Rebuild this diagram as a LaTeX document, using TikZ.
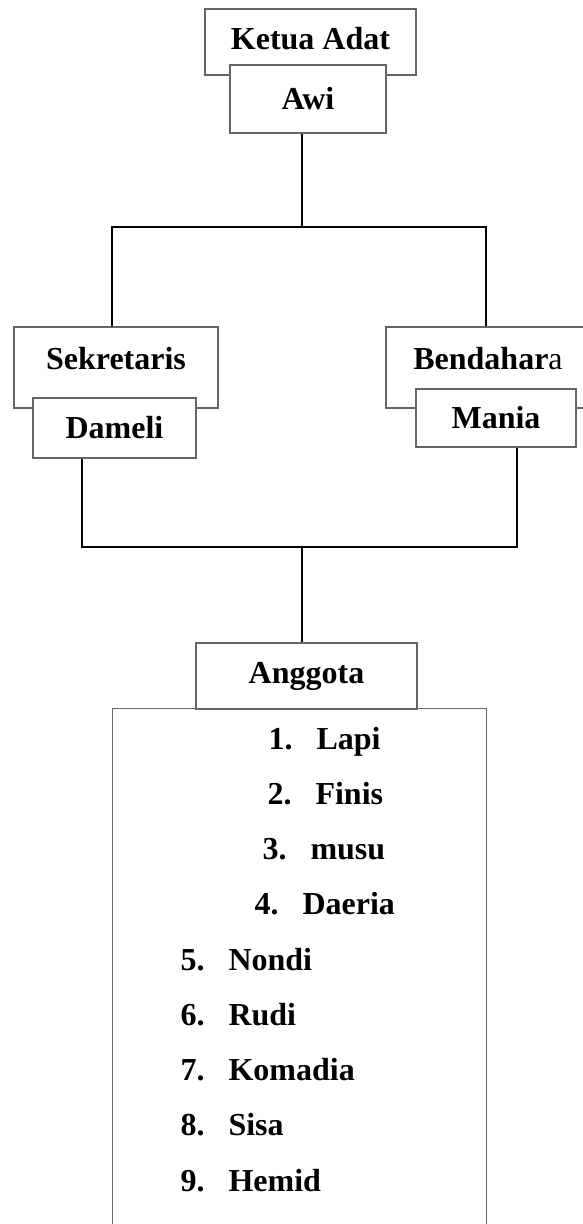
\documentclass[tikz,border=0pt,12pt]{standalone}
\usepackage{fontspec}
\setmainfont{Liberation Serif}
\usepackage{tikz}
\newcommand{\pxu}{0.375pt}

\begin{document}
\begin{tikzpicture}[x=0.375pt, y=-0.375pt,
    box/.style={draw=black!60, line width=0.45pt, fill=white, inner sep=0pt, font=\bfseries},
    boxline/.style={draw=black!60, line width=0.45pt},
    link/.style={draw=black, line width=0.8pt},
    item/.style={inner sep=0pt, font=\bfseries, anchor=base west}]
    % Fix the page size
    \useasboundingbox (0,0) rectangle (583,1224);

    % Ketua Adat with Awi in front
    \node[box, minimum width=211*\pxu, minimum height=66*\pxu, text depth=3pt] (ketua) at (310.5,42) {Ketua Adat};
    \node[box, minimum width=156*\pxu, minimum height=68*\pxu] (awi) at (308,99) {Awi};

    % Sekretaris with Dameli in front
    \node[box, minimum width=204*\pxu, minimum height=81*\pxu, text depth=7pt] (sekr) at (116,367.5) {Sekretaris};
    \node[box, minimum width=163*\pxu, minimum height=60*\pxu] (dameli) at (114.5,428) {Dameli};

    % Bendahara with Mania in front
    \node[box, minimum width=204*\pxu, minimum height=81*\pxu, text depth=7pt] (bend) at (488,367.5) {Bendahar\mdseries a};
    \node[box, minimum width=160*\pxu, minimum height=58*\pxu] (mania) at (496,418) {Mania};

    % Upper connectors
    \coordinate (barL) at (112,227);
    \coordinate (barM) at (302,227);
    \coordinate (barR) at (486,227);
    \draw[link] (awi.south -| barM) -- (barM);
    \draw[link] (barL |- sekr.north) -- (barL) -- (barR) -- (barR |- bend.north);

    % Lower connectors
    \coordinate (lowL) at (82,547);
    \coordinate (lowM) at (302,547);
    \coordinate (lowR) at (517,547);
    \draw[link] (lowL |- dameli.south) -- (lowL) -- (lowR) -- (lowR |- mania.south);

    % Member list, open at the bottom
    \node[inner sep=0pt, minimum width=373*\pxu, minimum height=515*\pxu] (list) at (299.5,966.5) {};
    \draw[boxline] (list.south west) -- (list.north west) -- (list.north east) -- (list.south east);
    \node[box, minimum width=221*\pxu, minimum height=66*\pxu] (anggota) at (306.5,676) {Anggota};
    \draw[link] (lowM) -- (lowM |- anggota.north);

    % Add the names
    \foreach \i/\nm/\xx in {1/Lapi/268, 2/Finis/267, 3/musu/262, 4/Daeria/254, 5/Nondi/180,
                            6/Rudi/180, 7/Komadia/180, 8/Sisa/180, 9/Hemid/180} {
      \node[item] (num\i) at (\xx, {749+55.25*(\i-1)}) {\i.};
      \node[item] (name\i) at ({\xx+48}, {749+55.25*(\i-1)}) {\nm};
    }
\end{tikzpicture}
\end{document}
